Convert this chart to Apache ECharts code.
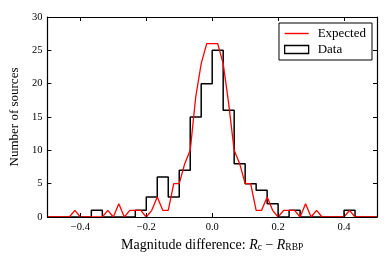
<!DOCTYPE html>
<html>
<head>
<meta charset="utf-8">
<script src="https://cdn.jsdelivr.net/npm/echarts@6/dist/echarts.min.js"></script>
<style>
html,body{margin:0;padding:0;background:#fff;}
#chart{width:390px;height:260px;}
</style>
</head>
<body>
<div id="chart"></div>
<script>
// Histogram "Data": 30 bins of width 1/30 starting at -0.5
const binStart = -0.5;
const binWidth = 1 / 30;
const dataCounts = [0, 0, 0, 0, 1, 0, 0, 0, 1, 3,
                    6, 3, 7, 15, 20, 25, 16, 8, 5, 4,
                    2, 0, 1, 0, 0, 0, 0, 1, 0, 0];
// "Expected" curve sampled every 1/60 from -0.5 to 0.5
const expStart = -0.5;
const expStep = 1 / 60;
const expectedCounts = [0, 0, 0, 0, 0, 1, 0, 0, 0, 0,
                        0, 1, 0, 2, 0, 1, 1, 1, 0, 1,
                        3, 1, 1, 5, 5, 8, 10, 18, 23, 26,
                        26, 26, 23, 17, 10, 8, 5, 5, 1, 1,
                        3, 1, 0, 1, 1, 1, 0, 2, 0, 1,
                        0, 0, 0, 0, 0, 1, 0, 0, 0, 0, 0];
const xTicks = [-0.4, -0.2, 0.0, 0.2, 0.4];
const yMin = 0, yMax = 30, yStep = 5;
const xMin = -0.5, xMax = 0.5;

const FONT = '"Liberation Serif", "DejaVu Serif", serif';

const histPoints = dataCounts.map((c, k) => [binStart + k * binWidth, c]);
histPoints.push([binStart + dataCounts.length * binWidth, dataCounts[dataCounts.length - 1]]);
const expPoints = expectedCounts.map((c, k) => [expStart + k * expStep, c]);

const fmt = v => v.toFixed(1).replace('-', '\u2212');

const axisLineStyle = { color: '#000', width: 1.2 };
const tickStyle = { color: '#000', width: 1 };

const chart = echarts.init(document.getElementById('chart'), null, { renderer: 'canvas' });
chart.setOption({
  animation: false,
  backgroundColor: '#fff',
  grid: { left: 45, right: 13, top: 17, bottom: 43 },
  legend: {
    orient: 'vertical',
    right: 18,
    top: 23,
    backgroundColor: '#fff',
    borderColor: '#000',
    borderWidth: 1,
    borderRadius: 0,
    padding: [4, 6, 4, 5],
    itemGap: 3,
    itemWidth: 24,
    itemHeight: 8,
    symbolKeepAspect: true,
    textStyle: { fontFamily: FONT, fontSize: 13, color: '#000', padding: [0, 0, 0, 4] },
    data: [
      { name: 'Expected', icon: 'path://M0,0H24V1.4H0Z', itemStyle: { color: '#ff0000', borderWidth: 0 } },
      { name: 'Data', icon: 'rect', itemStyle: { color: '#ffffff', borderColor: '#000', borderWidth: 1.3 } }
    ]
  },
  xAxis: [
    {
      type: 'value', min: xMin, max: xMax, position: 'bottom', z: 10,
      axisLine: { show: true, onZero: false, lineStyle: axisLineStyle },
      axisTick: { show: true, inside: true, length: 4, customValues: xTicks, lineStyle: tickStyle },
      axisLabel: { customValues: xTicks, formatter: fmt, margin: 5, color: '#000', fontFamily: FONT, fontSize: 10.5 },
      splitLine: { show: false },
      name: '{a|Magnitude difference: }{i|R}{s|c}{a| \u2212 }{i|R}{s|RBP}',
      nameLocation: 'middle',
      nameGap: 16,
      nameTextStyle: {
        rich: {
          a: { fontFamily: FONT, fontSize: 14, color: '#000', lineHeight: 16 },
          i: { fontFamily: FONT, fontSize: 14, fontStyle: 'italic', color: '#000', lineHeight: 16 },
          s: { fontFamily: FONT, fontSize: 9.5, color: '#000', lineHeight: 10, verticalAlign: 'bottom' }
        }
      }
    },
    {
      type: 'value', min: xMin, max: xMax, position: 'top', z: 10,
      axisLine: { show: true, onZero: false, lineStyle: axisLineStyle },
      axisTick: { show: true, inside: true, length: 4, customValues: xTicks, lineStyle: tickStyle },
      axisLabel: { show: false },
      splitLine: { show: false }
    }
  ],
  yAxis: [
    {
      type: 'value', min: yMin, max: yMax, interval: yStep, position: 'left', z: 10,
      axisLine: { show: true, onZero: false, lineStyle: axisLineStyle },
      axisTick: { show: true, inside: true, length: 4, lineStyle: tickStyle },
      axisLabel: { margin: 5, color: '#000', fontFamily: FONT, fontSize: 10.5 },
      splitLine: { show: false },
      name: 'Number of sources',
      nameLocation: 'middle',
      nameGap: 23,
      nameTextStyle: { fontFamily: FONT, fontSize: 13, color: '#000' }
    },
    {
      type: 'value', min: yMin, max: yMax, interval: yStep, position: 'right', z: 10,
      axisLine: { show: true, onZero: false, lineStyle: axisLineStyle },
      axisTick: { show: true, inside: true, length: 4, lineStyle: tickStyle },
      axisLabel: { show: false },
      splitLine: { show: false }
    }
  ],
  series: [
    {
      name: 'Expected', type: 'line', data: expPoints, symbol: 'none', z: 3,
      color: '#ff0000',
      lineStyle: { color: '#ff0000', width: 1.3 }
    },
    {
      name: 'Data', type: 'line', step: 'end', data: histPoints, symbol: 'none', z: 2,
      color: '#000000',
      lineStyle: { color: '#000000', width: 1.5 }
    }
  ]
});
</script>
</body>
</html>
